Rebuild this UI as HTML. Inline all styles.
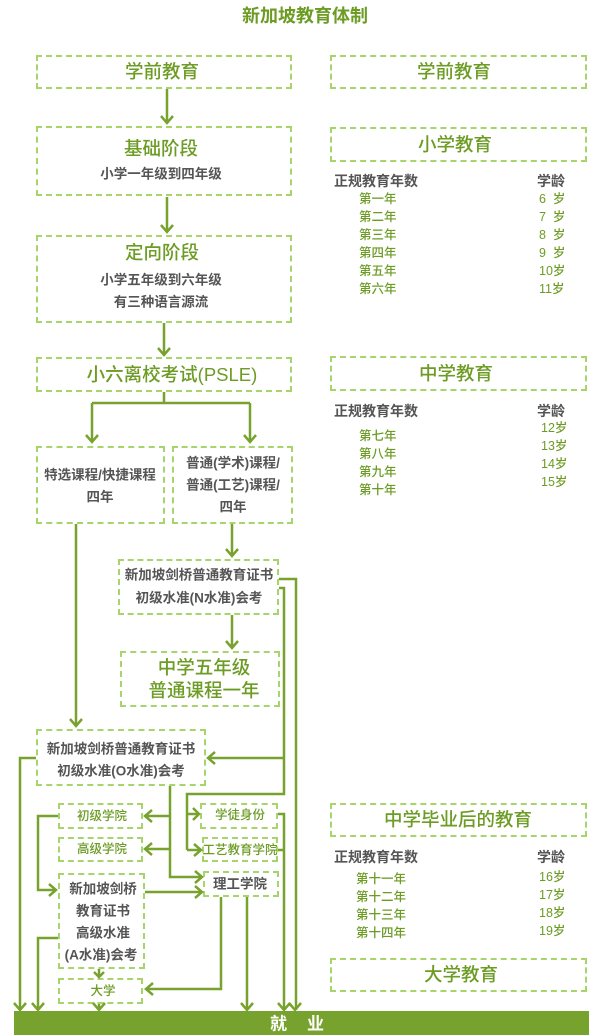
<!DOCTYPE html>
<html><head><meta charset="utf-8">
<style>
*{margin:0;padding:0;box-sizing:border-box}
body{width:600px;height:1035px;position:relative;background:#fff;overflow:hidden;font-family:"Liberation Sans","Noto Sans CJK SC",sans-serif}
.b{position:absolute;border:2px dashed #a8d46c}
.t{position:absolute;white-space:nowrap;line-height:1;transform:translateY(-50%)}
.c{position:absolute;white-space:nowrap;line-height:1;transform:translate(-50%,-50%)}
.h{color:#6c9c24;font-size:18.5px;font-weight:500}
.g{color:#555;font-size:13.5px;font-weight:bold}
.gs{color:#6c9c24;font-size:12.5px;font-weight:500}
.gh{color:#555;font-size:14px;font-weight:bold}
.r{color:#6c9c24;font-size:12.5px;font-weight:500}
svg{position:absolute;left:0;top:0}
</style></head><body>

<div class="c" style="left:305px;top:16px;color:#6c9c24;font-size:18px;font-weight:bold">新加坡教育体制</div>

<!-- left column boxes -->
<div class="b" style="left:36px;top:55px;width:256px;height:34px"></div>
<div class="c h" style="left:162px;top:72px">学前教育</div>

<div class="b" style="left:36px;top:126px;width:256px;height:70px"></div>
<div class="c h" style="left:161px;top:149px">基础阶段</div>
<div class="c g" style="left:161px;top:174px">小学一年级到四年级</div>

<div class="b" style="left:36px;top:235px;width:256px;height:88px"></div>
<div class="c h" style="left:162px;top:253px">定向阶段</div>
<div class="c g" style="left:161px;top:280px">小学五年级到六年级</div>
<div class="c g" style="left:161px;top:302px">有三种语言源流</div>

<div class="b" style="left:36px;top:357px;width:256px;height:35px"></div>
<div class="c h" style="left:172px;top:375px">小六离校考试(PSLE)</div>

<div class="b" style="left:36px;top:446px;width:129px;height:78px"></div>
<div class="c g" style="left:100px;top:475px">特选课程/快捷课程</div>
<div class="c g" style="left:100px;top:497px">四年</div>

<div class="b" style="left:172px;top:446px;width:121px;height:78px"></div>
<div class="c g" style="left:233px;top:463px">普通(学术)课程/</div>
<div class="c g" style="left:233px;top:485px">普通(工艺)课程/</div>
<div class="c g" style="left:233px;top:507px">四年</div>

<div class="b" style="left:118px;top:559px;width:161px;height:56px"></div>
<div class="c g" style="left:199px;top:575px">新加坡剑桥普通教育证书</div>
<div class="c g" style="left:199px;top:598px">初级水准(N水准)会考</div>

<div class="b" style="left:120px;top:651px;width:160px;height:56px"></div>
<div class="c h" style="left:204px;top:668px">中学五年级</div>
<div class="c h" style="left:204px;top:691px">普通课程一年</div>

<div class="b" style="left:36px;top:729px;width:170px;height:57px"></div>
<div class="c g" style="left:121px;top:749px">新加坡剑桥普通教育证书</div>
<div class="c g" style="left:121px;top:771px">初级水准(O水准)会考</div>

<div class="b" style="left:58px;top:803px;width:85px;height:26px"></div>
<div class="c gs" style="left:102px;top:816px">初级学院</div>
<div class="b" style="left:58px;top:837px;width:85px;height:25px"></div>
<div class="c gs" style="left:102px;top:849px">高级学院</div>

<div class="b" style="left:200px;top:803px;width:78px;height:26px"></div>
<div class="c gs" style="left:240px;top:815px">学徒身份</div>
<div class="b" style="left:202px;top:837px;width:76px;height:25px"></div>
<div class="c gs" style="left:240px;top:850px">工艺教育学院</div>
<div class="b" style="left:203px;top:871px;width:76px;height:26px"></div>
<div class="c g" style="left:240px;top:884px">理工学院</div>

<div class="b" style="left:58px;top:873px;width:87px;height:96px"></div>
<div class="c g" style="left:103px;top:889px">新加坡剑桥</div>
<div class="c g" style="left:103px;top:911px">教育证书</div>
<div class="c g" style="left:103px;top:933px">高级水准</div>
<div class="c g" style="left:101px;top:955px">(A水准)会考</div>

<div class="b" style="left:58px;top:978px;width:85px;height:26px"></div>
<div class="c gs" style="left:103px;top:991px">大学</div>

<!-- right column -->
<div class="b" style="left:330px;top:55px;width:257px;height:34px"></div>
<div class="c h" style="left:454px;top:72px">学前教育</div>

<div class="b" style="left:330px;top:127px;width:257px;height:35px"></div>
<div class="c h" style="left:455px;top:145px">小学教育</div>
<div class="t gh" style="left:334px;top:181px">正规教育年数</div>
<div class="t gh" style="left:537px;top:181px">学龄</div>
<div class="t r" style="left:359px;top:199px">第一年</div>
<div class="t r" style="left:359px;top:217px">第二年</div>
<div class="t r" style="left:359px;top:235px">第三年</div>
<div class="t r" style="left:359px;top:253px">第四年</div>
<div class="t r" style="left:359px;top:271px">第五年</div>
<div class="t r" style="left:359px;top:289px">第六年</div>
<div class="t r" style="left:539px;top:199px">6&nbsp;&nbsp;岁</div>
<div class="t r" style="left:539px;top:217px">7&nbsp;&nbsp;岁</div>
<div class="t r" style="left:539px;top:235px">8&nbsp;&nbsp;岁</div>
<div class="t r" style="left:539px;top:253px">9&nbsp;&nbsp;岁</div>
<div class="t r" style="left:539px;top:271px">10岁</div>
<div class="t r" style="left:539px;top:289px">11岁</div>

<div class="b" style="left:330px;top:356px;width:257px;height:35px"></div>
<div class="c h" style="left:456px;top:374px">中学教育</div>
<div class="t gh" style="left:334px;top:411px">正规教育年数</div>
<div class="t gh" style="left:537px;top:411px">学龄</div>
<div class="t r" style="left:359px;top:436px">第七年</div>
<div class="t r" style="left:359px;top:454px">第八年</div>
<div class="t r" style="left:359px;top:472px">第九年</div>
<div class="t r" style="left:359px;top:490px">第十年</div>
<div class="t r" style="left:541px;top:428px">12岁</div>
<div class="t r" style="left:541px;top:446px">13岁</div>
<div class="t r" style="left:541px;top:464px">14岁</div>
<div class="t r" style="left:541px;top:482px">15岁</div>

<div class="b" style="left:330px;top:803px;width:257px;height:34px"></div>
<div class="c h" style="left:458px;top:820px">中学毕业后的教育</div>
<div class="t gh" style="left:334px;top:857px">正规教育年数</div>
<div class="t gh" style="left:537px;top:857px">学龄</div>
<div class="t r" style="left:356px;top:879px">第十一年</div>
<div class="t r" style="left:356px;top:897px">第十二年</div>
<div class="t r" style="left:356px;top:915px">第十三年</div>
<div class="t r" style="left:356px;top:933px">第十四年</div>
<div class="t r" style="left:539px;top:877px">16岁</div>
<div class="t r" style="left:539px;top:895px">17岁</div>
<div class="t r" style="left:539px;top:913px">18岁</div>
<div class="t r" style="left:539px;top:931px">19岁</div>

<div class="b" style="left:330px;top:958px;width:257px;height:34px"></div>
<div class="c h" style="left:461px;top:975px">大学教育</div>

<!-- bottom bar -->
<div style="position:absolute;left:14px;top:1011px;width:575px;height:24px;background:#78a22e"></div>
<div class="t" style="left:270px;top:1024px;color:#fff;font-size:17px;font-weight:bold">就</div>
<div class="t" style="left:307px;top:1024px;color:#fff;font-size:17px;font-weight:bold">业</div>

<svg width="600" height="1035" viewBox="0 0 600 1035">
<g fill="none" stroke="#78a22e" stroke-width="2.5" stroke-linejoin="miter">
<path d="M167 89V123M167 197V232M164 323V355"/>
<path d="M164 392V403M92 403H250M92 403V442M250 403V442"/>
<path d="M76 524V726"/>
<path d="M232 524V556M232 615V648"/>
<path d="M279 579H296V1010"/>
<path d="M279 588H284V794H187V850M187 814H199M187 850H201"/>
<path d="M284 758H208"/>
<path d="M36 758H20V1010"/>
<path d="M170 786V877H202M170 816H145M170 849H145"/>
<path d="M58 816H38V890H56"/>
<path d="M145 892H202"/>
<path d="M58 938H38V1010"/>
<path d="M99 969V977M99 1004V1010"/>
<path d="M221 897V989H146"/>
<path d="M247 897V1010"/>
<path d="M278 814H284V1010M278 850H284"/>
<path d="M161 116L167 123L173 116M161 225L167 232L173 225M158 348L164 355L170 348"/>
<path d="M86 435L92 442L98 435M244 435L250 442L256 435"/>
<path d="M70 719L76 726L82 719"/>
<path d="M226 549L232 556L238 549M226 641L232 648L238 641"/>
<path d="M14 1003L20 1010L26 1003M32 1003L38 1010L44 1003M93 1003L99 1010L105 1003M241 1003L247 1010L253 1003M278 1003L284 1010L290 1003M289 1003L295 1010L301 1003"/>
<path d="M94 972L99 977L104 972"/>
<path d="M215 752L208 758L215 764"/>
<path d="M152 810L145 816L152 822M152 843L145 849L152 855"/>
<path d="M153 983L146 989L153 995"/>
<path d="M193 808L199 814L193 820M194 844L201 850L194 856"/>
<path d="M195 871L202 877L195 883M195 886L202 892L195 898"/>
<path d="M49 884L56 890L49 896"/>
</g>
</svg>
</body></html>
